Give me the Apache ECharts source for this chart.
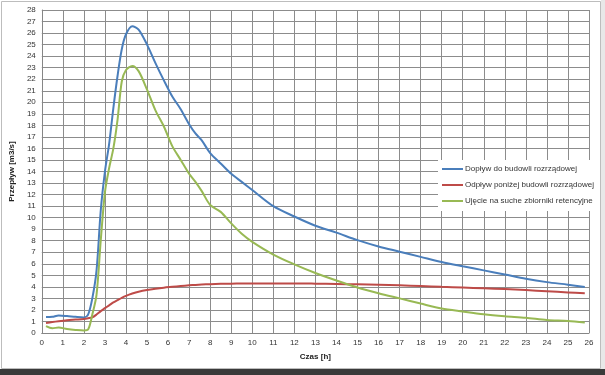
<!DOCTYPE html>
<html>
<head>
<meta charset="utf-8">
<script src="https://cdn.jsdelivr.net/npm/echarts@6/dist/echarts.min.js"></script>
<style>
html,body{margin:0;padding:0;background:#fff;}
#c{width:605px;height:375px;}
</style>
</head>
<body>
<div id="c"></div>
<script>
const timeH = [0.2,0.5,0.8,1.2,1.6,2.0,2.2,2.4,2.6,2.8,3.0,3.2,3.4,3.6,3.8,4.0,4.3,4.6,5.0,5.4,5.8,6.2,6.6,7.0,7.3,7.6,8.0,8.5,9.0,9.5,10,11,12,13,14,15,16,17,18,19,20,21,22,23,24,25,25.8];
const doplyw = [1.38,1.4,1.52,1.47,1.4,1.35,1.6,3.0,5.4,10.6,14.0,16.4,19.5,22.3,24.6,25.9,26.6,26.3,25.0,23.4,21.9,20.5,19.4,18.1,17.3,16.7,15.6,14.7,13.8,13.1,12.4,11.0,10.1,9.3,8.7,8.05,7.5,7.05,6.6,6.15,5.78,5.43,5.07,4.7,4.41,4.19,3.99];
const odplyw = [0.87,0.95,1.02,1.1,1.16,1.22,1.28,1.36,1.6,1.9,2.15,2.4,2.65,2.85,3.05,3.22,3.42,3.58,3.73,3.84,3.93,4.0,4.07,4.13,4.17,4.2,4.23,4.26,4.28,4.29,4.3,4.3,4.3,4.28,4.25,4.22,4.18,4.13,4.07,4.0,3.94,3.88,3.81,3.72,3.62,3.52,3.44];
const ujecie = [0.6,0.42,0.47,0.35,0.27,0.22,0.3,1.6,3.3,8.0,12.2,14.3,16.0,18.5,21.8,22.8,23.15,22.7,21.1,19.3,17.9,16.2,15.0,13.8,13.1,12.3,11.1,10.5,9.5,8.6,7.9,6.8,5.95,5.2,4.55,3.95,3.45,3.0,2.55,2.12,1.86,1.62,1.45,1.32,1.12,1.04,0.9];
const seriesNames = ['Dopływ do budowli rozrządowej','Odpływ poniżej budowli rozrządowej','Ujęcie na suche zbiorniki retencyjne'];
const seriesColors = ['#4a7ebb','#be4b48','#98b954'];

const pairs = arr => timeH.map((t,i)=>[t,arr[i]]);
const chart = echarts.init(document.getElementById('c'));
const font = 'Liberation Sans, Arial, sans-serif';
chart.setOption({
  animation:false,
  textStyle:{fontFamily:font},
  graphic:[
    {type:'rect',shape:{x:1.5,y:1.5,width:599,height:367},style:{fill:'none',stroke:'#bdbdbd',lineWidth:1},z:-10},
    {type:'rect',shape:{x:0,y:369,width:605,height:6},style:{fill:'#3a3a3a'},z:-10},
    {type:'rect',shape:{x:601,y:0,width:4,height:375},style:{fill:'#e8e8e8'},z:-11}
  ],
  grid:{left:41,right:16,top:10,bottom:42,containLabel:false},
  xAxis:{
    type:'value',min:0,max:26,interval:1,
    name:'Czas [h]',nameLocation:'middle',nameGap:20,
    nameTextStyle:{fontSize:8,fontWeight:'bold',color:'#222',fontFamily:font},
    axisLine:{lineStyle:{color:'#868686'}},
    axisTick:{show:false},
    axisLabel:{fontSize:8,color:'#333',margin:6},
    splitLine:{show:true,lineStyle:{color:'#8c8c8c',width:1}}
  },
  yAxis:{
    type:'value',min:0,max:28,interval:1,
    name:'Przepływ [m3/s]',nameLocation:'middle',nameGap:19,nameRotate:90,
    nameTextStyle:{fontSize:8,fontWeight:'bold',color:'#222',fontFamily:font},
    axisLine:{show:true,lineStyle:{color:'#868686'}},
    axisTick:{show:false},
    axisLabel:{fontSize:8,color:'#333',margin:6},
    splitLine:{show:true,lineStyle:{color:'#8c8c8c',width:1}}
  },
  legend:{
    orient:'vertical',left:438,top:160,
    icon:'rect',itemWidth:21,itemHeight:2,itemGap:8,
    backgroundColor:'#fff',padding:[5,4,6,4],
    textStyle:{fontSize:8,color:'#333',padding:[0,0,0,-3]},
    data:seriesNames
  },
  series:[
    {name:seriesNames[0],type:'line',data:pairs(doplyw),smooth:0.3,showSymbol:false,lineStyle:{width:2,color:seriesColors[0]},itemStyle:{color:seriesColors[0]}},
    {name:seriesNames[1],type:'line',data:pairs(odplyw),smooth:0.3,showSymbol:false,lineStyle:{width:2,color:seriesColors[1]},itemStyle:{color:seriesColors[1]}},
    {name:seriesNames[2],type:'line',data:pairs(ujecie),smooth:0.3,showSymbol:false,lineStyle:{width:2,color:seriesColors[2]},itemStyle:{color:seriesColors[2]}}
  ]
});
</script>
</body>
</html>
